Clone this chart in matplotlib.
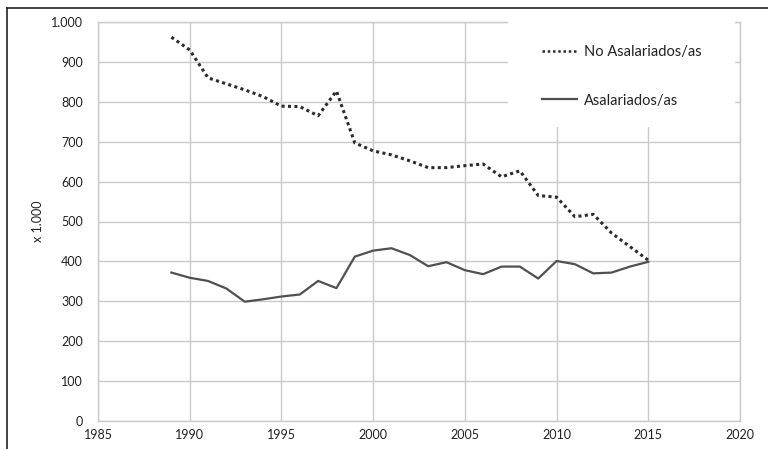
import matplotlib
matplotlib.use("Agg")
import matplotlib.pyplot as plt
from matplotlib.patches import Rectangle
from matplotlib.lines import Line2D
from matplotlib.ticker import FuncFormatter

years = list(range(1989, 2016))
no_asalariados = [962, 930, 860, 845, 830, 813, 789, 788, 765, 827, 697, 677,
                  667, 652, 635, 635, 640, 644, 612, 627, 565, 561, 512, 518,
                  471, 437, 403]
asalariados = [372, 359, 351, 332, 299, 305, 312, 317, 351, 333, 412, 427,
               433, 416, 388, 398, 378, 368, 387, 387, 357, 401, 393, 370,
               372, 387, 399]
labels = ["No Asalariados/as", "Asalariados/as"]
xticks = [1985, 1990, 1995, 2000, 2005, 2010, 2015, 2020]
yticks = [0, 100, 200, 300, 400, 500, 600, 700, 800, 900, 1000]

plt.rcParams['font.family'] = ['Lato', 'DejaVu Sans']

fig = plt.figure(figsize=(7.68, 4.49), dpi=100)
W, H = 768, 449
ax = fig.add_axes([98 / W, 1 - 421 / H, (740 - 98) / W, (421 - 22) / H])

grid_c = '#c9c9c9'
ax.plot(years, no_asalariados, color='#2b2b2b', lw=2.2, linestyle=(0, (1, 1.1)),
        label=labels[0], zorder=2)
ax.plot(years, asalariados, color='#505050', lw=1.6, label=labels[1], zorder=2)

ax.set_xlim(1985, 2020)
ax.set_ylim(0, 1000)
ax.set_xticks(xticks)
ax.set_yticks(yticks)
ax.yaxis.set_major_formatter(FuncFormatter(lambda v, p: f"{int(v):,}".replace(",", ".")))
ax.grid(True, color=grid_c, lw=1)
ax.set_axisbelow(True)
for s in ax.spines.values():
    s.set_color(grid_c)
    s.set_linewidth(1)
ax.tick_params(length=0, labelsize=9, colors='#222222')
ax.tick_params(axis='y', pad=11)
ax.tick_params(axis='x', pad=6)
ax.set_ylabel("x 1.000", fontsize=9, color='#222222', labelpad=5)

# white legend area
ax.add_patch(Rectangle((0.6386, 0.737), 0.992 - 0.6386, 0.28, transform=ax.transAxes,
                       facecolor='white', edgecolor='none', zorder=3, clip_on=False))
leg = ax.legend(loc='upper left', bbox_to_anchor=(0.681, 0.96), frameon=False,
                fontsize=10.5, handlelength=2.4, handletextpad=0.45, labelspacing=2.35,
                borderpad=0, labelcolor='#222222')
leg.set_zorder(4)
leg.get_lines()[0].set_linewidth(1.8)

# outer frame lines (left and top)
fig.add_artist(Line2D([7 / W, 7 / W], [0, 1 - 8 / H], transform=fig.transFigure,
                      color='#222222', lw=1.2))
fig.add_artist(Line2D([7 / W, 1], [1 - 8 / H, 1 - 8 / H], transform=fig.transFigure,
                      color='#222222', lw=1.2))

fig.savefig("out.png", dpi=100)
